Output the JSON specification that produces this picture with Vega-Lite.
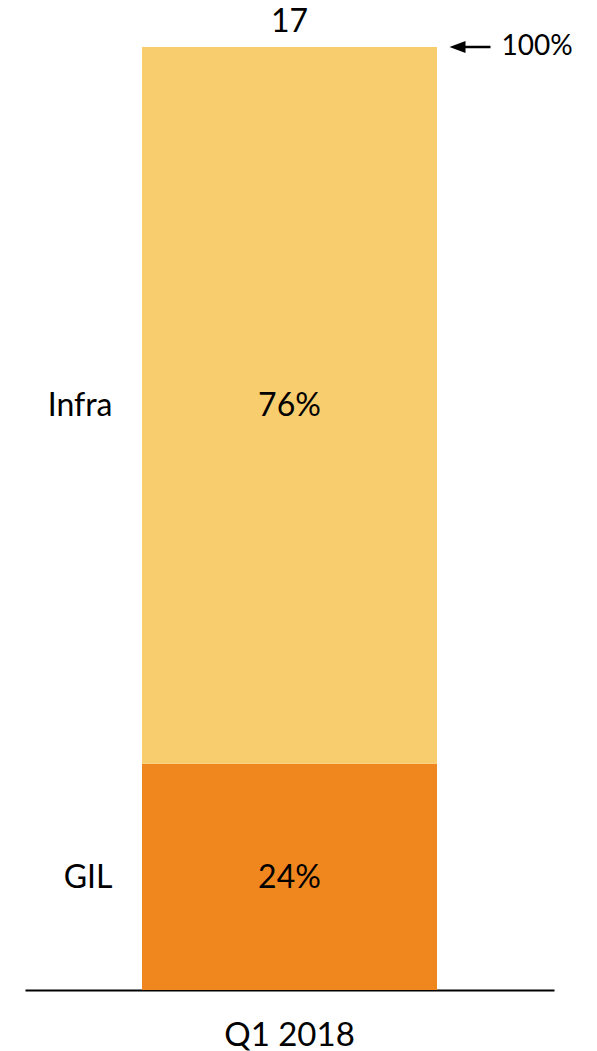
{
  "$schema": "https://vega.github.io/schema/vega-lite/v6.json",
  "width": 529,
  "height": 943,
  "autosize": "none",
  "padding": {"left": 25, "right": 43, "top": 47, "bottom": 61},
  "background": "white",
  "config": {"view": {"stroke": null}, "font": "Lato", "text": {"font": "Lato", "color": "black"}},
  "datasets": {
    "segments": [
      {"quarter": "Q1 2018", "segment": "GIL", "share": 0.24},
      {"quarter": "Q1 2018", "segment": "Infra", "share": 0.76}
    ],
    "totals": [
      {"quarter": "Q1 2018", "total": 17, "share": 1, "label": "100%"}
    ]
  },
  "encoding": {
    "x": {
      "field": "quarter", "type": "nominal",
      "axis": {"title": null, "ticks": false, "tickSize": 0, "labelAngle": 0, "labelFont": "Lato", "labelFontSize": 33, "labelColor": "black", "labelPadding": 45, "labelBaseline": "middle", "domainColor": "black", "domainWidth": 2}
    }
  },
  "layer": [
    {
      "data": {"name": "segments"},
      "transform": [
        {"stack": "share", "groupby": ["quarter"], "sort": [{"field": "segment", "order": "ascending"}], "as": ["y0", "y1"]},
        {"calculate": "(datum.y0 + datum.y1) / 2", "as": "mid"}
      ],
      "layer": [
        {
          "mark": {"type": "bar", "width": 295},
          "encoding": {
            "y": {"field": "y0", "type": "quantitative", "scale": {"domain": [0, 1], "nice": false}, "axis": null},
            "y2": {"field": "y1"},
            "color": {"field": "segment", "type": "nominal", "scale": {"domain": ["GIL", "Infra"], "range": ["#F0871E", "#F8CD6E"]}, "legend": null}
          }
        },
        {
          "mark": {"type": "text", "fontSize": 32, "baseline": "middle", "align": "center", "dy": 1},
          "encoding": {
            "y": {"field": "mid", "type": "quantitative"},
            "text": {"field": "share", "type": "quantitative", "format": ".0%"}
          }
        },
        {
          "mark": {"type": "text", "fontSize": 32, "baseline": "middle", "align": "right", "dx": -177, "dy": 1},
          "encoding": {
            "y": {"field": "mid", "type": "quantitative"},
            "text": {"field": "segment"}
          }
        }
      ]
    },
    {
      "data": {"name": "totals"},
      "layer": [
        {
          "mark": {"type": "text", "fontSize": 32, "baseline": "alphabetic", "align": "center", "dy": -15},
          "encoding": {
            "y": {"field": "share", "type": "quantitative"},
            "text": {"field": "total", "type": "quantitative"}
          }
        },
        {
          "mark": {"type": "rule", "strokeWidth": 2.5, "color": "black", "xOffset": 172, "x2Offset": 201},
          "encoding": {
            "x2": {"field": "quarter"},
            "y": {"field": "share", "type": "quantitative"}
          }
        },
        {
          "mark": {"type": "point", "shape": "M-1,0L1,-0.75L1,0.75Z", "size": 256, "filled": true, "color": "black", "opacity": 1, "xOffset": 168},
          "encoding": {
            "y": {"field": "share", "type": "quantitative"}
          }
        },
        {
          "mark": {"type": "text", "fontSize": 28, "baseline": "middle", "align": "left", "dx": 212},
          "encoding": {
            "y": {"field": "share", "type": "quantitative"},
            "text": {"field": "label"}
          }
        }
      ]
    }
  ]
}
